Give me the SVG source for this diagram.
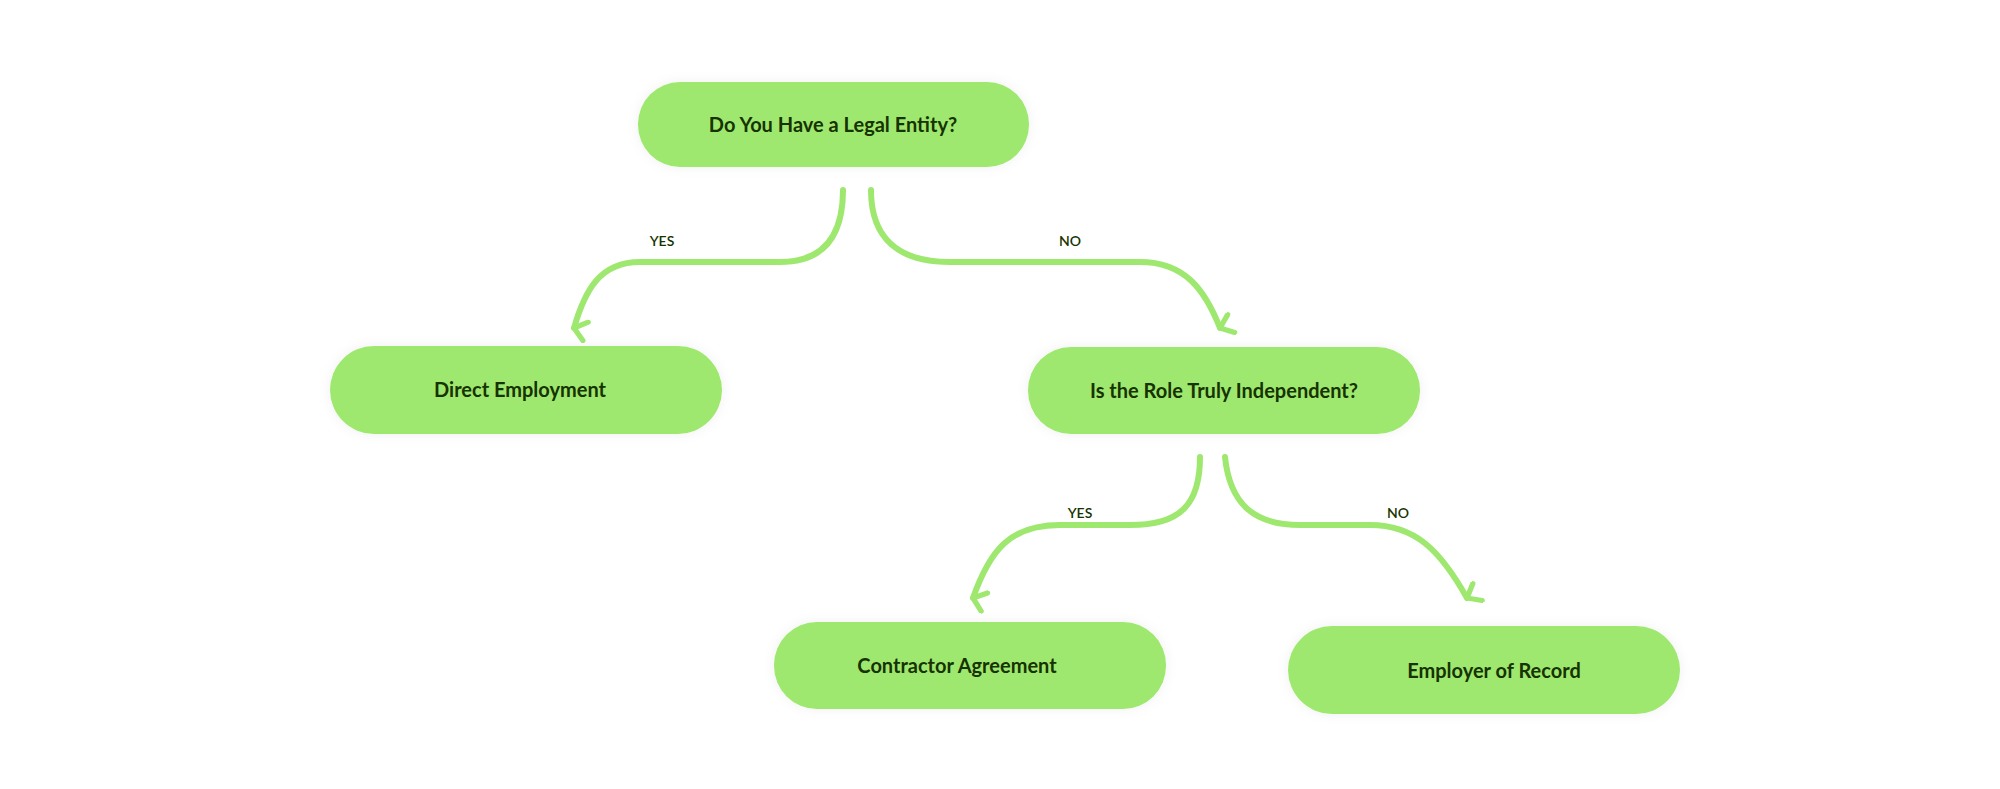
<svg xmlns="http://www.w3.org/2000/svg" width="2000" height="789" viewBox="0 0 2000 789">
<style>
.node{fill:#9fe870;filter:url(#glow)}
.t{font-family:Lato,"Noto Sans",sans-serif;font-weight:700;font-size:20px;fill:#163300;text-anchor:middle;dominant-baseline:central}
.lbl{font-family:Lato,"Noto Sans",sans-serif;font-weight:600;font-size:14px;fill:#163300;text-anchor:middle;dominant-baseline:central}
.c{fill:none;stroke:#9fe870;stroke-width:6;stroke-linecap:round;marker-end:url(#ah)}
</style>
<defs>
<filter id="glow" x="-10%" y="-30%" width="120%" height="160%"><feDropShadow dx="0" dy="0" stdDeviation="6" flood-color="#000" flood-opacity="0.06"/></filter>
<marker id="ah" viewBox="0 0 10 10" refX="5" refY="8" markerWidth="4" markerHeight="4" orient="auto-start-reverse" markerUnits="strokeWidth">
<path d="M1,3 L5,8 L9,3" fill="none" stroke="#9fe870" stroke-width="2.2" stroke-linecap="round" stroke-linejoin="round"/>
</marker>
</defs>
<rect width="2000" height="789" fill="#fff"/>
<g id="connectors">
<path class="c" d="M843,190 C843,240 820,262 780,262 L640,262 C600,262 585,290 574,328"/>
<path class="c" d="M871,190 C871,240 900,262 950,262 L1140,262 C1185,262 1205,290 1220,328"/>
<path class="c" d="M1200,457 C1200,505 1180,525 1130,525 L1060,525 C1010,525 990,550 973,598"/>
<path class="c" d="M1225,457 C1230,505 1255,525 1300,525 L1370,525 C1415,525 1440,550 1467,598"/>
<text class="lbl" x="662" y="240">YES</text>
<text class="lbl" x="1070" y="240">NO</text>
<text class="lbl" x="1080" y="512">YES</text>
<text class="lbl" x="1398" y="512">NO</text>
</g>
<g id="n1"><rect class="node" x="638" y="82" width="391" height="85" rx="42"/><text class="t" x="833" y="124">Do You Have a Legal Entity?</text></g>
<g id="n2"><rect class="node" x="330" y="346" width="392" height="88" rx="44"/><text class="t" x="520" y="389">Direct Employment</text></g>
<g id="n3"><rect class="node" x="1028" y="347" width="392" height="87" rx="43"/><text class="t" x="1224" y="390">Is the Role Truly Independent?</text></g>
<g id="n4"><rect class="node" x="774" y="622" width="392" height="87" rx="43"/><text class="t" x="957" y="665">Contractor Agreement</text></g>
<g id="n5"><rect class="node" x="1288" y="626" width="392" height="88" rx="44"/><text class="t" x="1494" y="670">Employer of Record</text></g>
</svg>
